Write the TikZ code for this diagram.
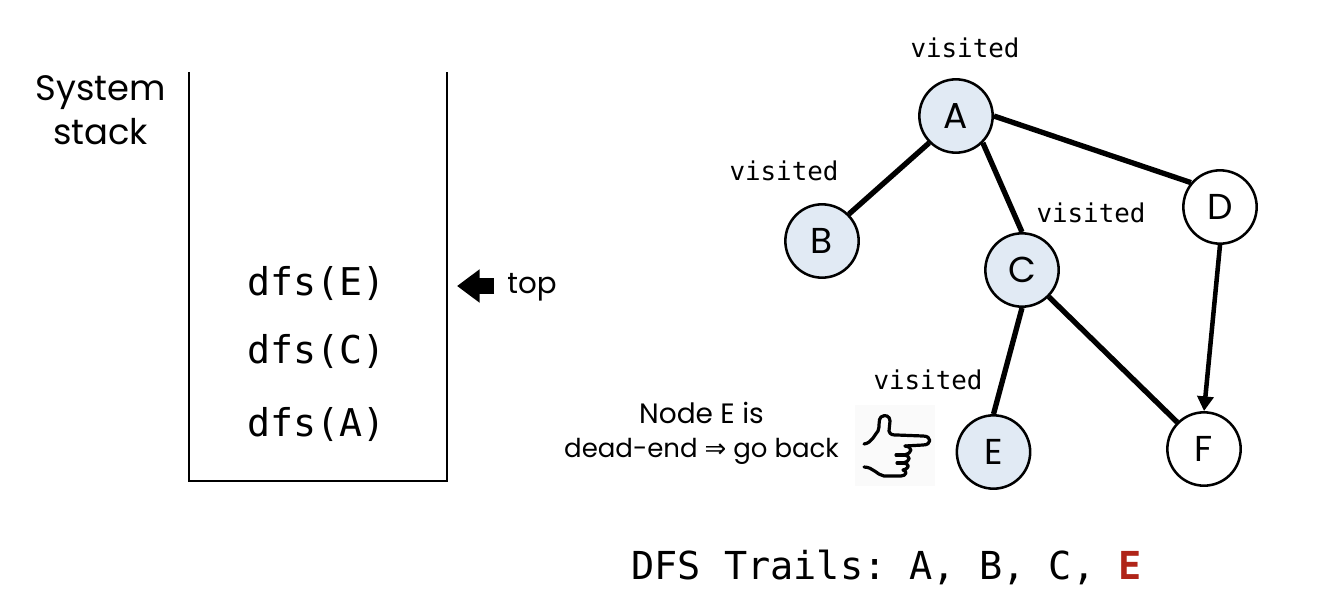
\documentclass[tikz,border=0pt]{standalone}
\usepackage{fontspec}
\setmainfont{Poppins}
\setmonofont{DejaVu Sans Mono}
\newfontfamily\symfont{DejaVu Sans}
\usetikzlibrary{arrows.meta}
\definecolor{nodefill}{HTML}{E1EAF4}
\definecolor{trailred}{HTML}{B02418}
\tikzset{
  gnode/.style={circle,draw=black,line width=1.9pt,minimum size=55pt,inner sep=0pt,font=\fontsize{27}{30}\selectfont,fill=white},
  seen/.style={gnode,fill=nodefill},
  edge/.style={line width=4pt,draw=black},
  vis/.style={font=\ttfamily\fontsize{19.4}{22}\selectfont,inner sep=0pt},
  call/.style={font=\ttfamily\fontsize{28.7}{32}\selectfont,inner sep=0pt},
  lbl/.style={align=center,inner sep=0pt},
  stackwall/.style={line width=1.6pt,draw=black},
  handline/.style={line width=2.4pt,line cap=round,line join=round,draw=black}
}
\begin{document}
\begin{tikzpicture}[x=0.75pt,y=-0.75pt]
\useasboundingbox (0,0) rectangle (1326,610);
% stack
\coordinate (s1) at (189,72);
\coordinate (s2) at (189,481);
\coordinate (s3) at (447,481);
\coordinate (s4) at (447,72);
\draw[stackwall] (s1) -- (s2) -- (s3) -- (s4);
\node[lbl,font=\fontsize{26.5}{33}\selectfont] (sys) at (100.5,110.5) {System\\stack};
\node[call] (e) at (316.5,283) {dfs(E)};
\node[call] (c) at (316.5,351) {dfs(C)};
\node[call] (a) at (316.5,424) {dfs(A)};
% top arrow
\node[inner sep=0pt,font=\fontsize{22}{26}\selectfont] (top) at (532,287) {top};
\coordinate (ta) at (494,286);
\coordinate (tb) at (457,286);
\draw[line width=11.5pt,-{Triangle[length=17pt,width=24pt]}] (ta) -- (tb);
% graph
\node[seen] (A) at (956,116) {A};
\node[seen] (B) at (822,241) {B};
\node[seen] (C) at (1022,270) {C};
\node[gnode] (D) at (1220,207) {D};
\node[seen] (E) at (993.5,452) {E};
\node[gnode] (F) at (1204,449) {F};
\draw[edge] (A.225) -- (B.45);
\draw[edge] (A.-45) -- (C.north);
\draw[edge] (A.east) -- (D.140);
\draw[edge] (C.south) -- (E.north);
\draw[edge] (C.-45) -- (F.135);
\draw[edge,line width=3.4pt,-{Triangle[length=11pt,width=12pt]}] (D.south) -- (F.north);
\node[vis] (v1) at (965,48) {visited};
\node[vis] (v2) at (784,171) {visited};
\node[vis] (v3) at (1091,213) {visited};
\node[vis] (v4) at (928,380) {visited};
\node[lbl,font=\fontsize{19.5}{25}\selectfont] (note) at (701.5,433.5) {\fontsize{21}{25}\selectfont Node E is\\dead-end {\symfont ⇒} go back};
% hand
\fill[black!2] (855,405) rectangle (935,486);
\draw[handline] (864,444) .. controls (872,443) and (875,434) .. (878,431) .. controls (880,427) and (878,419) .. (881,417) .. controls (885,414) and (890,416) .. (890,421) -- (889,431) .. controls (890,435) and (893,435) .. (897,435) -- (923,436) .. controls (932,436) and (932,445) .. (923,445) -- (905,446);
\draw[handline] (905,446) .. controls (913,447) and (913,453) .. (904,455) .. controls (911,456) and (911,461) .. (903,463) .. controls (910,464) and (910,468) .. (903,470) .. controls (908,471) and (906,476) .. (901,476) -- (884,476) .. controls (877,475) and (873,467) .. (864,467);
\draw[handline] (896,455) -- (904,455);
\draw[handline] (897,463) -- (903,463);
% trail
\node[inner sep=0pt,font=\ttfamily\fontsize{28.9}{33}\selectfont,anchor=base west] (trail) at (631,579) {DFS Trails: A, B, C, \textcolor{trailred}{\textbf{E}}};
\end{tikzpicture}
\end{document}
